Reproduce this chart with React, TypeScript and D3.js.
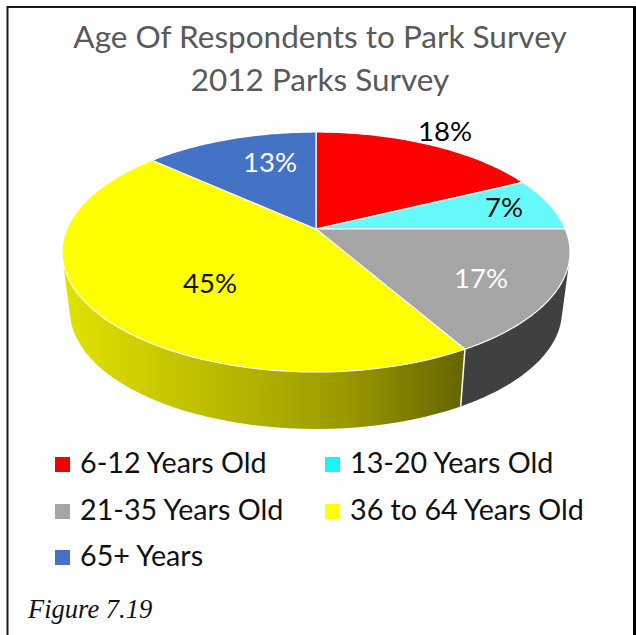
import React from "react";
import * as d3 from "d3";

const categories = ["6-12 Years Old", "13-20 Years Old", "21-35 Years Old", "36 to 64 Years Old", "65+ Years"];
const values = [17.8, 7.2, 16.7, 45, 13.3];
const faceColors = ["#ff0000", "#66f9f9", "#a5a5a5", "#ffff00", "#4472c4"];
const legendColors = ["#f00000", "#19f5f5", "#a5a5a5", "#ffff00", "#4472c4"];
const labelColors = ["#000000", "#111111", "#ffffff", "#111111", "#ffffff"];
const titleLines = ["Age Of Respondents to Park Survey", "2012 Parks Survey"];
const caption = "Figure 7.19";

const W = 636, H = 635;
// label placement (layout only)
const labelPos: [number, number][] = [[445, 141], [504, 217], [481, 288], [210, 293], [270, 172]];
const legendPos: [number, number][] = [[55, 473], [325, 473], [55, 520], [325, 520], [55, 566]];

// Perspective projection of a tilted disc onto an ellipse
function projector(cx: number, cy: number, rx: number, ry: number, apexOffset: number) {
  const a = rx * Math.sqrt(1 - (apexOffset / ry) ** 2);
  const k = apexOffset / ry;
  return (theta: number): [number, number] => {
    const u = Math.sin(theta), v = -Math.cos(theta);
    const den = 1 + k * v;
    return [cx + (a * u) / den, cy + (apexOffset + ry * v) / den];
  };
}
const topP = projector(316, 252, 254, 120, -23);
const botP = projector(316, 311, 246, 118, -23);
const apexPoint: [number, number] = [316, 229];

const arcs = d3.pie<number>().sort(null).startAngle(0).endAngle(2 * Math.PI)(values);
const line = d3.line();
const pct = d3.format(".0f");

function sample(p: (t: number) => [number, number], a0: number, a1: number) {
  return d3.range(0, 61).map((i) => p(a0 + ((a1 - a0) * i) / 60));
}

export default function App() {
  const font = "Lato, 'Open Sans', sans-serif";
  return (
    <svg width={W} height={H} style={{ position: "absolute", left: 0, top: 0, background: "#fff" }}>
      <defs>
        <linearGradient id="yellowSide" gradientUnits="userSpaceOnUse" x1={64} x2={462} y1={0} y2={0}>
          <stop offset="0" stopColor="#e2e200" />
          <stop offset="0.25" stopColor="#c8c800" />
          <stop offset="0.7" stopColor="#9a9a00" />
          <stop offset="1" stopColor="#666600" />
        </linearGradient>
      </defs>
      <rect x={7.5} y={7} width={640} height={640} fill="#fff" stroke="#1a1a1a" strokeWidth={2} />
      <rect x={633} y={7} width={3} height={628} fill="#000" />
      {titleLines.map((t, i) => (
        <text key={t} x={320} y={48 + i * 43} textAnchor="middle" fontFamily={font} fontSize={31.5} fill="#595959">{t}</text>
      ))}
      {arcs.map((d, i) => {
        if (d.endAngle <= Math.PI / 2 || d.startAngle >= (3 * Math.PI) / 2) return null;
        const pts = [...sample(topP, d.startAngle, d.endAngle), ...sample(botP, d.startAngle, d.endAngle)];
        const hull = d3.polygonHull(pts)!;
        return <path key={i} d={line(hull)! + "Z"} fill={i === 3 ? "url(#yellowSide)" : "#404040"} />;
      })}
      {arcs.map((d, i) => (
        i === 2 ? <path key={i} d={line([topP(d.endAngle), botP(d.endAngle)])!} stroke="#fff" strokeWidth={1.5} fill="none" /> : null
      ))}
      {arcs.map((d, i) => (
        <path key={i} d={line([apexPoint, ...sample(topP, d.startAngle, d.endAngle)])! + "Z"} fill={faceColors[i]} stroke="#fff" strokeWidth={1.2} strokeLinejoin="round" />
      ))}
      {values.map((v, i) => (
        <text key={i} x={labelPos[i][0]} y={labelPos[i][1]} textAnchor="middle" fontFamily={font} fontSize={27.5} fill={labelColors[i]}>{pct(v)}%</text>
      ))}
      {categories.map((c, i) => (
        <g key={c}>
          <rect x={legendPos[i][0]} y={legendPos[i][1] - 16} width={15} height={15} fill={legendColors[i]} />
          <text x={legendPos[i][0] + 25} y={legendPos[i][1]} fontFamily={font} fontSize={28.7} fill="#111">{c}</text>
        </g>
      ))}
      <text x={28} y={618} fontFamily="'Liberation Serif', serif" fontStyle="italic" fontSize={26.5} fill="#111">{caption}</text>
    </svg>
  );
}
